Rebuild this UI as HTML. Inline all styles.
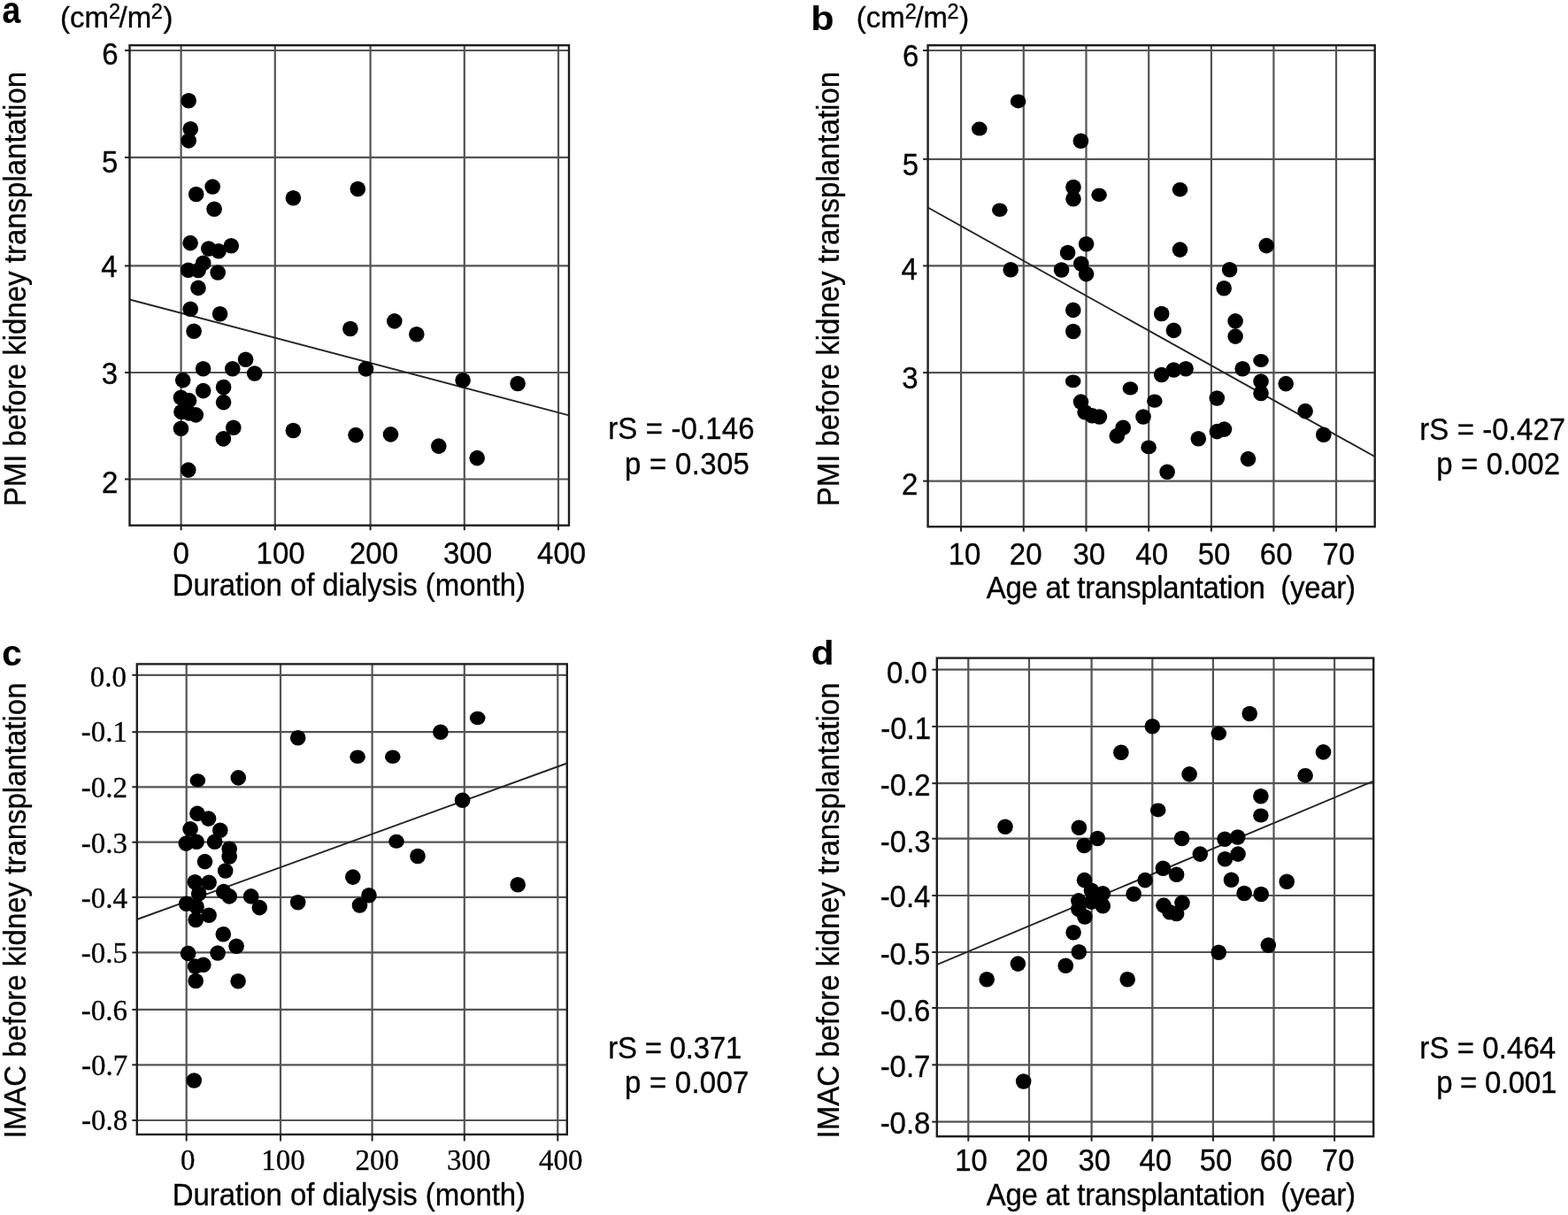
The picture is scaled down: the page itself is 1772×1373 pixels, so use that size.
<!DOCTYPE html>
<html><head><meta charset="utf-8"><title>Figure</title>
<style>
html,body{margin:0;padding:0;background:#fff;}
body{width:1772px;height:1373px;overflow:hidden;}
svg{display:block;}
text{fill:#000;font-kerning:none;white-space:pre;stroke:#000;stroke-width:0.3px;}
.f1{font-family:"Liberation Sans",Arial,sans-serif;}
.f2{font-family:"Liberation Serif","Times New Roman",serif;}
.b{font-weight:bold;}
.fdj{font-family:"DejaVu Sans Condensed","DejaVu Sans",sans-serif;font-weight:bold;font-stretch:condensed;}
.g{stroke:#535353;stroke-width:2.2;}
.k{stroke:#202020;stroke-width:2;}
.r{stroke:#262626;stroke-width:1.9;}
.fr{fill:none;stroke:#1e1e1e;stroke-width:2.4;}
circle,ellipse{fill:#000;}
</style></head><body>
<svg width="1772" height="1373" viewBox="0 0 1772 1373">
<rect width="1772" height="1373" fill="#fff"/>
<line class="g" x1="204.60" y1="51.20" x2="204.60" y2="593.70"/>
<line class="g" x1="310.80" y1="51.20" x2="310.80" y2="593.70"/>
<line class="g" x1="418.60" y1="51.20" x2="418.60" y2="593.70"/>
<line class="g" x1="524.80" y1="51.20" x2="524.80" y2="593.70"/>
<line class="g" x1="631.00" y1="51.20" x2="631.00" y2="593.70"/>
<line class="g" x1="146.50" y1="57.00" x2="643.00" y2="57.00"/>
<line class="g" x1="146.50" y1="177.90" x2="643.00" y2="177.90"/>
<line class="g" x1="146.50" y1="300.45" x2="643.00" y2="300.45"/>
<line class="g" x1="146.50" y1="421.00" x2="643.00" y2="421.00"/>
<line class="g" x1="146.50" y1="541.50" x2="643.00" y2="541.50"/>
<line class="k" x1="141.00" y1="57.00" x2="146.50" y2="57.00"/>
<line class="k" x1="141.00" y1="177.90" x2="146.50" y2="177.90"/>
<line class="k" x1="141.00" y1="300.45" x2="146.50" y2="300.45"/>
<line class="k" x1="141.00" y1="421.00" x2="146.50" y2="421.00"/>
<line class="k" x1="141.00" y1="541.50" x2="146.50" y2="541.50"/>
<line class="k" x1="204.60" y1="593.70" x2="204.60" y2="599.20"/>
<line class="k" x1="310.80" y1="593.70" x2="310.80" y2="599.20"/>
<line class="k" x1="418.60" y1="593.70" x2="418.60" y2="599.20"/>
<line class="k" x1="524.80" y1="593.70" x2="524.80" y2="599.20"/>
<line class="k" x1="631.00" y1="593.70" x2="631.00" y2="599.20"/>
<line class="r" x1="146.50" y1="338.50" x2="643.00" y2="469.30"/>
<circle cx="213.2" cy="113.7" r="8.8"/>
<circle cx="215.3" cy="145.8" r="8.8"/>
<circle cx="213.2" cy="158.9" r="8.8"/>
<circle cx="221.7" cy="219.5" r="8.8"/>
<circle cx="240.2" cy="211.0" r="8.8"/>
<circle cx="242.1" cy="236.2" r="8.8"/>
<circle cx="331.4" cy="223.7" r="8.8"/>
<circle cx="404.3" cy="213.5" r="8.8"/>
<circle cx="215.1" cy="274.6" r="8.8"/>
<circle cx="235.8" cy="281.0" r="8.8"/>
<circle cx="247.0" cy="283.8" r="8.8"/>
<circle cx="261.3" cy="277.7" r="8.8"/>
<circle cx="229.7" cy="297.3" r="8.8"/>
<circle cx="212.8" cy="305.2" r="8.8"/>
<circle cx="224.1" cy="305.5" r="8.8"/>
<circle cx="246.2" cy="308.0" r="8.8"/>
<circle cx="224.0" cy="325.4" r="8.8"/>
<circle cx="215.2" cy="349.2" r="8.8"/>
<circle cx="248.6" cy="354.8" r="8.8"/>
<circle cx="219.1" cy="374.2" r="8.8"/>
<circle cx="395.9" cy="371.5" r="8.8"/>
<circle cx="445.8" cy="362.9" r="8.8"/>
<circle cx="470.8" cy="377.7" r="8.8"/>
<circle cx="277.6" cy="406.2" r="8.8"/>
<circle cx="229.6" cy="416.8" r="8.8"/>
<circle cx="262.8" cy="416.8" r="8.8"/>
<circle cx="287.7" cy="422.0" r="8.8"/>
<circle cx="413.5" cy="416.9" r="8.8"/>
<circle cx="206.7" cy="429.6" r="8.8"/>
<circle cx="523.1" cy="429.7" r="8.8"/>
<circle cx="585.1" cy="433.5" r="8.8"/>
<circle cx="229.7" cy="441.6" r="8.8"/>
<circle cx="252.6" cy="437.5" r="8.8"/>
<circle cx="252.6" cy="454.6" r="8.8"/>
<circle cx="204.5" cy="449.3" r="8.8"/>
<circle cx="213.6" cy="452.6" r="8.8"/>
<circle cx="205.0" cy="465.4" r="8.8"/>
<circle cx="221.3" cy="468.9" r="8.8"/>
<circle cx="213.6" cy="466.9" r="8.8"/>
<circle cx="204.5" cy="484.2" r="8.8"/>
<circle cx="263.8" cy="483.2" r="8.8"/>
<circle cx="252.4" cy="495.9" r="8.8"/>
<circle cx="212.8" cy="531.1" r="8.8"/>
<circle cx="331.4" cy="486.5" r="8.8"/>
<circle cx="402.0" cy="491.6" r="8.8"/>
<circle cx="441.5" cy="490.9" r="8.8"/>
<circle cx="495.8" cy="504.1" r="8.8"/>
<circle cx="539.2" cy="517.6" r="8.8"/>
<rect class="fr" x="146.5" y="51.2" width="496.5" height="542.5"/>
<text class="f1" transform="translate(115.30,72.80) scale(1,1.09)" font-size="33">6</text>
<text class="f1" transform="translate(114.93,195.20) scale(1,1.09)" font-size="33">5</text>
<text class="f1" transform="translate(114.21,313.30) scale(1,1.09)" font-size="33">4</text>
<text class="f1" transform="translate(114.80,434.10) scale(1,1.09)" font-size="33">3</text>
<text class="f1" transform="translate(115.01,556.50) scale(1,1.09)" font-size="33">2</text>
<text class="f1" transform="translate(195.52,637.30) scale(1,1.09)" font-size="33">0</text>
<text class="f1" transform="translate(289.56,637.30) scale(1,1.09)" font-size="33">100</text>
<text class="f1" transform="translate(394.99,637.30) scale(1,1.09)" font-size="33">200</text>
<text class="f1" transform="translate(500.99,637.30) scale(1,1.09)" font-size="33">300</text>
<text class="f1" transform="translate(607.04,637.30) scale(1,1.09)" font-size="33">400</text>
<text class="f1" transform="translate(194.79,673.20) scale(1,1.09)" font-size="33" textLength="399.25" lengthAdjust="spacing">Duration of dialysis (month)</text>
<text class="f1" transform="translate(29.10,572.31) rotate(-90) scale(1,1.09)" font-size="33" textLength="491.45" lengthAdjust="spacing">PMI before kidney transplantation</text>
<text class="f1" transform="translate(687.21,496.30) scale(1,1.09)" font-size="33" textLength="165.44" lengthAdjust="spacing">rS = -0.146</text>
<text class="f1" transform="translate(705.97,536.10) scale(1,1.09)" font-size="33" textLength="140.91" lengthAdjust="spacing">p = 0.305</text>
<text class="f1 b" transform="translate(2.61,25.99) scale(0.3732,0.4198)" font-size="100">a</text>
<line class="g" x1="1086.10" y1="51.20" x2="1086.10" y2="595.20"/>
<line class="g" x1="1156.80" y1="51.20" x2="1156.80" y2="595.20"/>
<line class="g" x1="1227.50" y1="51.20" x2="1227.50" y2="595.20"/>
<line class="g" x1="1298.20" y1="51.20" x2="1298.20" y2="595.20"/>
<line class="g" x1="1368.90" y1="51.20" x2="1368.90" y2="595.20"/>
<line class="g" x1="1439.40" y1="51.20" x2="1439.40" y2="595.20"/>
<line class="g" x1="1510.00" y1="51.20" x2="1510.00" y2="595.20"/>
<line class="g" x1="1048.60" y1="57.00" x2="1553.70" y2="57.00"/>
<line class="g" x1="1048.60" y1="179.80" x2="1553.70" y2="179.80"/>
<line class="g" x1="1048.60" y1="300.40" x2="1553.70" y2="300.40"/>
<line class="g" x1="1048.60" y1="421.10" x2="1553.70" y2="421.10"/>
<line class="g" x1="1048.60" y1="543.60" x2="1553.70" y2="543.60"/>
<line class="k" x1="1043.10" y1="57.00" x2="1048.60" y2="57.00"/>
<line class="k" x1="1043.10" y1="179.80" x2="1048.60" y2="179.80"/>
<line class="k" x1="1043.10" y1="300.40" x2="1048.60" y2="300.40"/>
<line class="k" x1="1043.10" y1="421.10" x2="1048.60" y2="421.10"/>
<line class="k" x1="1043.10" y1="543.60" x2="1048.60" y2="543.60"/>
<line class="k" x1="1086.10" y1="595.20" x2="1086.10" y2="600.70"/>
<line class="k" x1="1156.80" y1="595.20" x2="1156.80" y2="600.70"/>
<line class="k" x1="1227.50" y1="595.20" x2="1227.50" y2="600.70"/>
<line class="k" x1="1298.20" y1="595.20" x2="1298.20" y2="600.70"/>
<line class="k" x1="1368.90" y1="595.20" x2="1368.90" y2="600.70"/>
<line class="k" x1="1439.40" y1="595.20" x2="1439.40" y2="600.70"/>
<line class="k" x1="1510.00" y1="595.20" x2="1510.00" y2="600.70"/>
<line class="r" x1="1048.60" y1="234.50" x2="1553.70" y2="516.00"/>
<ellipse cx="1106.8" cy="145.6" rx="8.8" ry="8.0"/>
<ellipse cx="1150.6" cy="114.4" rx="8.8" ry="8.0"/>
<ellipse cx="1129.8" cy="237.2" rx="8.8" ry="7.8"/>
<circle cx="1142.2" cy="304.7" r="8.8"/>
<circle cx="1221.4" cy="159.3" r="8.8"/>
<circle cx="1213.0" cy="211.5" r="8.8"/>
<circle cx="1213.0" cy="224.8" r="8.8"/>
<ellipse cx="1242.1" cy="220.3" rx="8.8" ry="7.8"/>
<ellipse cx="1333.5" cy="214.2" rx="8.8" ry="8.2"/>
<circle cx="1333.5" cy="282.1" r="8.8"/>
<circle cx="1431.2" cy="277.6" r="8.8"/>
<circle cx="1227.6" cy="275.8" r="8.8"/>
<circle cx="1206.6" cy="285.5" r="8.8"/>
<circle cx="1199.6" cy="305.0" r="8.8"/>
<circle cx="1221.8" cy="298.0" r="8.8"/>
<circle cx="1227.6" cy="309.6" r="8.8"/>
<circle cx="1389.6" cy="304.8" r="8.8"/>
<circle cx="1383.2" cy="325.8" r="8.8"/>
<circle cx="1212.8" cy="350.4" r="8.8"/>
<circle cx="1212.8" cy="374.5" r="8.8"/>
<circle cx="1312.7" cy="354.5" r="8.8"/>
<circle cx="1326.4" cy="373.4" r="8.8"/>
<circle cx="1396.1" cy="362.9" r="8.8"/>
<circle cx="1396.1" cy="380.1" r="8.8"/>
<ellipse cx="1425.0" cy="407.5" rx="8.8" ry="7.5"/>
<circle cx="1404.2" cy="416.8" r="8.8"/>
<circle cx="1312.7" cy="423.5" r="8.8"/>
<circle cx="1326.4" cy="418.0" r="8.8"/>
<circle cx="1340.1" cy="416.8" r="8.8"/>
<ellipse cx="1212.7" cy="430.8" rx="8.8" ry="7.4"/>
<circle cx="1425.0" cy="431.0" r="8.8"/>
<circle cx="1425.0" cy="444.5" r="8.8"/>
<circle cx="1453.2" cy="433.6" r="8.8"/>
<ellipse cx="1277.4" cy="438.9" rx="8.8" ry="7.6"/>
<ellipse cx="1304.8" cy="453.2" rx="8.8" ry="7.6"/>
<circle cx="1375.3" cy="450.0" r="8.8"/>
<circle cx="1221.5" cy="454.1" r="8.8"/>
<circle cx="1226.1" cy="465.7" r="8.8"/>
<circle cx="1234.3" cy="469.8" r="8.8"/>
<circle cx="1242.4" cy="471.0" r="8.8"/>
<circle cx="1292.0" cy="471.0" r="8.8"/>
<circle cx="1475.1" cy="464.6" r="8.8"/>
<circle cx="1269.2" cy="483.2" r="8.8"/>
<circle cx="1262.3" cy="492.6" r="8.8"/>
<circle cx="1375.4" cy="487.6" r="8.8"/>
<circle cx="1383.5" cy="485.1" r="8.8"/>
<circle cx="1495.8" cy="491.3" r="8.8"/>
<circle cx="1354.3" cy="495.7" r="8.8"/>
<ellipse cx="1298.1" cy="505.4" rx="8.8" ry="7.9"/>
<circle cx="1410.5" cy="518.6" r="8.8"/>
<circle cx="1319.1" cy="533.3" r="8.8"/>
<rect class="fr" x="1048.6" y="51.2" width="505.10000000000014" height="544.0"/>
<text class="f1" transform="translate(1020.10,74.80) scale(1,1.09)" font-size="33">6</text>
<text class="f1" transform="translate(1019.63,197.90) scale(1,1.09)" font-size="33">5</text>
<text class="f1" transform="translate(1018.61,315.60) scale(1,1.09)" font-size="33">4</text>
<text class="f1" transform="translate(1019.30,439.00) scale(1,1.09)" font-size="33">3</text>
<text class="f1" transform="translate(1019.01,559.40) scale(1,1.09)" font-size="33">2</text>
<text class="f1" transform="translate(1071.63,638.20) scale(1,1.09)" font-size="33">10</text>
<text class="f1" transform="translate(1140.81,638.20) scale(1,1.09)" font-size="33">20</text>
<text class="f1" transform="translate(1212.41,638.20) scale(1,1.09)" font-size="33">30</text>
<text class="f1" transform="translate(1283.31,638.20) scale(1,1.09)" font-size="33">40</text>
<text class="f1" transform="translate(1353.68,638.20) scale(1,1.09)" font-size="33">50</text>
<text class="f1" transform="translate(1423.85,638.20) scale(1,1.09)" font-size="33">60</text>
<text class="f1" transform="translate(1494.50,638.20) scale(1,1.09)" font-size="33">70</text>
<text class="f1" transform="translate(1114.74,675.50) scale(1,1.09)" font-size="33" textLength="417.31" lengthAdjust="spacing">Age at transplantation  (year)</text>
<text class="f1" transform="translate(948.00,572.31) rotate(-90) scale(1,1.09)" font-size="33" textLength="491.45" lengthAdjust="spacing">PMI before kidney transplantation</text>
<text class="f1" transform="translate(1604.31,496.60) scale(1,1.09)" font-size="33" textLength="164.85" lengthAdjust="spacing">rS = -0.427</text>
<text class="f1" transform="translate(1623.17,536.20) scale(1,1.09)" font-size="33" textLength="139.99" lengthAdjust="spacing">p = 0.002</text>
<text class="f1 b" transform="translate(916.26,33.51) scale(0.4306,0.3963)" font-size="100">b</text>
<line class="g" x1="210.70" y1="750.40" x2="210.70" y2="1282.00"/>
<line class="g" x1="317.00" y1="750.40" x2="317.00" y2="1282.00"/>
<line class="g" x1="420.60" y1="750.40" x2="420.60" y2="1282.00"/>
<line class="g" x1="524.80" y1="750.40" x2="524.80" y2="1282.00"/>
<line class="g" x1="630.30" y1="750.40" x2="630.30" y2="1282.00"/>
<line class="g" x1="154.80" y1="762.80" x2="640.80" y2="762.80"/>
<line class="g" x1="154.80" y1="827.20" x2="640.80" y2="827.20"/>
<line class="g" x1="154.80" y1="889.30" x2="640.80" y2="889.30"/>
<line class="g" x1="154.80" y1="951.70" x2="640.80" y2="951.70"/>
<line class="g" x1="154.80" y1="1013.90" x2="640.80" y2="1013.90"/>
<line class="g" x1="154.80" y1="1076.40" x2="640.80" y2="1076.40"/>
<line class="g" x1="154.80" y1="1140.90" x2="640.80" y2="1140.90"/>
<line class="g" x1="154.80" y1="1203.30" x2="640.80" y2="1203.30"/>
<line class="g" x1="154.80" y1="1266.00" x2="640.80" y2="1266.00"/>
<line class="k" x1="149.30" y1="762.80" x2="154.80" y2="762.80"/>
<line class="k" x1="149.30" y1="827.20" x2="154.80" y2="827.20"/>
<line class="k" x1="149.30" y1="889.30" x2="154.80" y2="889.30"/>
<line class="k" x1="149.30" y1="951.70" x2="154.80" y2="951.70"/>
<line class="k" x1="149.30" y1="1013.90" x2="154.80" y2="1013.90"/>
<line class="k" x1="149.30" y1="1076.40" x2="154.80" y2="1076.40"/>
<line class="k" x1="149.30" y1="1140.90" x2="154.80" y2="1140.90"/>
<line class="k" x1="149.30" y1="1203.30" x2="154.80" y2="1203.30"/>
<line class="k" x1="149.30" y1="1266.00" x2="154.80" y2="1266.00"/>
<line class="k" x1="210.70" y1="1282.00" x2="210.70" y2="1289.50"/>
<line class="k" x1="317.00" y1="1282.00" x2="317.00" y2="1289.50"/>
<line class="k" x1="420.60" y1="1282.00" x2="420.60" y2="1289.50"/>
<line class="k" x1="524.80" y1="1282.00" x2="524.80" y2="1289.50"/>
<line class="k" x1="630.30" y1="1282.00" x2="630.30" y2="1289.50"/>
<line class="r" x1="154.80" y1="1039.00" x2="640.80" y2="862.50"/>
<ellipse cx="223.4" cy="881.9" rx="8.8" ry="7.6"/>
<circle cx="269.3" cy="878.9" r="8.8"/>
<circle cx="336.7" cy="833.7" r="8.8"/>
<ellipse cx="404.1" cy="855.3" rx="8.8" ry="7.7"/>
<ellipse cx="443.8" cy="855.2" rx="8.8" ry="7.8"/>
<circle cx="497.9" cy="827.3" r="8.8"/>
<ellipse cx="539.7" cy="811.5" rx="8.8" ry="7.8"/>
<circle cx="522.6" cy="904.3" r="8.8"/>
<ellipse cx="448.0" cy="950.8" rx="8.8" ry="8.0"/>
<circle cx="472.0" cy="967.5" r="8.8"/>
<circle cx="398.8" cy="991.1" r="8.8"/>
<circle cx="585.2" cy="999.7" r="8.8"/>
<circle cx="336.7" cy="1019.7" r="8.8"/>
<circle cx="417.0" cy="1011.7" r="8.8"/>
<circle cx="406.5" cy="1023.0" r="8.8"/>
<circle cx="223.0" cy="919.4" r="8.8"/>
<circle cx="235.6" cy="925.1" r="8.8"/>
<circle cx="248.8" cy="938.2" r="8.8"/>
<circle cx="215.1" cy="936.9" r="8.8"/>
<circle cx="210.3" cy="953.1" r="8.8"/>
<circle cx="222.1" cy="951.3" r="8.8"/>
<circle cx="242.6" cy="951.3" r="8.8"/>
<circle cx="259.2" cy="959.2" r="8.8"/>
<circle cx="259.2" cy="968.0" r="8.8"/>
<circle cx="231.5" cy="973.6" r="8.8"/>
<circle cx="254.7" cy="984.0" r="8.8"/>
<circle cx="220.3" cy="996.7" r="8.8"/>
<circle cx="236.1" cy="997.2" r="8.8"/>
<circle cx="224.7" cy="1009.8" r="8.8"/>
<circle cx="252.7" cy="1007.6" r="8.8"/>
<circle cx="259.2" cy="1012.9" r="8.8"/>
<circle cx="283.7" cy="1012.9" r="8.8"/>
<circle cx="293.3" cy="1025.6" r="8.8"/>
<circle cx="210.7" cy="1021.2" r="8.8"/>
<circle cx="222.1" cy="1024.7" r="8.8"/>
<circle cx="221.2" cy="1039.5" r="8.8"/>
<circle cx="236.1" cy="1034.3" r="8.8"/>
<circle cx="252.3" cy="1055.7" r="8.8"/>
<circle cx="267.1" cy="1069.3" r="8.8"/>
<circle cx="212.6" cy="1077.4" r="8.8"/>
<circle cx="246.1" cy="1077.0" r="8.8"/>
<circle cx="229.8" cy="1090.2" r="8.8"/>
<circle cx="220.6" cy="1092.1" r="8.8"/>
<circle cx="221.2" cy="1108.5" r="8.8"/>
<circle cx="269.1" cy="1108.8" r="8.8"/>
<circle cx="219.3" cy="1221.0" r="8.8"/>
<rect class="fr" x="154.8" y="750.4" width="485.99999999999994" height="531.6"/>
<text class="f2" transform="translate(101.64,776.00) scale(1,1.04)" font-size="33">0.0</text>
<text class="f2" transform="translate(91.68,838.40) scale(1,1.04)" font-size="33">-0.1</text>
<text class="f2" transform="translate(91.68,901.00) scale(1,1.04)" font-size="33">-0.2</text>
<text class="f2" transform="translate(91.68,963.60) scale(1,1.04)" font-size="33">-0.3</text>
<text class="f2" transform="translate(91.68,1026.00) scale(1,1.04)" font-size="33">-0.4</text>
<text class="f2" transform="translate(91.68,1088.40) scale(1,1.04)" font-size="33">-0.5</text>
<text class="f2" transform="translate(91.68,1152.90) scale(1,1.04)" font-size="33">-0.6</text>
<text class="f2" transform="translate(91.98,1214.50) scale(1,1.04)" font-size="33">-0.7</text>
<text class="f2" transform="translate(91.98,1277.20) scale(1,1.04)" font-size="33">-0.8</text>
<text class="f2" transform="translate(203.90,1322.00) scale(1,1.04)" font-size="33">0</text>
<text class="f2" transform="translate(295.28,1322.00) scale(1,1.04)" font-size="33">100</text>
<text class="f2" transform="translate(401.45,1322.00) scale(1,1.04)" font-size="33">200</text>
<text class="f2" transform="translate(504.99,1322.00) scale(1,1.04)" font-size="33">300</text>
<text class="f2" transform="translate(609.01,1322.00) scale(1,1.04)" font-size="33">400</text>
<text class="f1" transform="translate(194.79,1361.70) scale(1,1.09)" font-size="33" textLength="399.25" lengthAdjust="spacing">Duration of dialysis (month)</text>
<text class="f1" transform="translate(28.90,1286.45) rotate(-90) scale(1,1.09)" font-size="33" textLength="514.99" lengthAdjust="spacing">IMAC before kidney transplantation</text>
<text class="f1" transform="translate(687.21,1195.50) scale(1,1.09)" font-size="33" textLength="151.20" lengthAdjust="spacing">rS = 0.371</text>
<text class="f1" transform="translate(705.97,1235.20) scale(1,1.09)" font-size="33" textLength="140.39" lengthAdjust="spacing">p = 0.007</text>
<text class="f1 b" transform="translate(2.32,751.60) scale(0.4039,0.4070)" font-size="100">c</text>
<line class="g" x1="1094.30" y1="743.60" x2="1094.30" y2="1284.20"/>
<line class="g" x1="1163.00" y1="743.60" x2="1163.00" y2="1284.20"/>
<line class="g" x1="1233.60" y1="743.60" x2="1233.60" y2="1284.20"/>
<line class="g" x1="1302.30" y1="743.60" x2="1302.30" y2="1284.20"/>
<line class="g" x1="1370.90" y1="743.60" x2="1370.90" y2="1284.20"/>
<line class="g" x1="1439.50" y1="743.60" x2="1439.50" y2="1284.20"/>
<line class="g" x1="1508.10" y1="743.60" x2="1508.10" y2="1284.20"/>
<line class="g" x1="1058.80" y1="756.70" x2="1552.20" y2="756.70"/>
<line class="g" x1="1058.80" y1="821.00" x2="1552.20" y2="821.00"/>
<line class="g" x1="1058.80" y1="885.20" x2="1552.20" y2="885.20"/>
<line class="g" x1="1058.80" y1="947.70" x2="1552.20" y2="947.70"/>
<line class="g" x1="1058.80" y1="1012.00" x2="1552.20" y2="1012.00"/>
<line class="g" x1="1058.80" y1="1076.00" x2="1552.20" y2="1076.00"/>
<line class="g" x1="1058.80" y1="1139.00" x2="1552.20" y2="1139.00"/>
<line class="g" x1="1058.80" y1="1203.30" x2="1552.20" y2="1203.30"/>
<line class="g" x1="1058.80" y1="1267.70" x2="1552.20" y2="1267.70"/>
<line class="k" x1="1053.30" y1="756.70" x2="1058.80" y2="756.70"/>
<line class="k" x1="1053.30" y1="821.00" x2="1058.80" y2="821.00"/>
<line class="k" x1="1053.30" y1="885.20" x2="1058.80" y2="885.20"/>
<line class="k" x1="1053.30" y1="947.70" x2="1058.80" y2="947.70"/>
<line class="k" x1="1053.30" y1="1012.00" x2="1058.80" y2="1012.00"/>
<line class="k" x1="1053.30" y1="1076.00" x2="1058.80" y2="1076.00"/>
<line class="k" x1="1053.30" y1="1139.00" x2="1058.80" y2="1139.00"/>
<line class="k" x1="1053.30" y1="1203.30" x2="1058.80" y2="1203.30"/>
<line class="k" x1="1053.30" y1="1267.70" x2="1058.80" y2="1267.70"/>
<line class="k" x1="1094.30" y1="1284.20" x2="1094.30" y2="1289.70"/>
<line class="k" x1="1163.00" y1="1284.20" x2="1163.00" y2="1289.70"/>
<line class="k" x1="1233.60" y1="1284.20" x2="1233.60" y2="1289.70"/>
<line class="k" x1="1302.30" y1="1284.20" x2="1302.30" y2="1289.70"/>
<line class="k" x1="1370.90" y1="1284.20" x2="1370.90" y2="1289.70"/>
<line class="k" x1="1439.50" y1="1284.20" x2="1439.50" y2="1289.70"/>
<line class="k" x1="1508.10" y1="1284.20" x2="1508.10" y2="1289.70"/>
<line class="r" x1="1058.80" y1="1090.20" x2="1552.20" y2="882.70"/>
<circle cx="1115.2" cy="1106.7" r="8.8"/>
<circle cx="1150.4" cy="1089.1" r="8.8"/>
<circle cx="1136.0" cy="934.3" r="8.8"/>
<circle cx="1156.7" cy="1222.0" r="8.8"/>
<circle cx="1204.3" cy="1091.3" r="8.8"/>
<circle cx="1213.1" cy="1053.8" r="8.8"/>
<circle cx="1219.3" cy="1075.7" r="8.8"/>
<circle cx="1219.4" cy="935.2" r="8.8"/>
<circle cx="1225.2" cy="955.5" r="8.8"/>
<circle cx="1240.3" cy="947.5" r="8.8"/>
<circle cx="1225.5" cy="994.6" r="8.8"/>
<circle cx="1233.5" cy="1006.2" r="8.8"/>
<circle cx="1246.3" cy="1009.7" r="8.8"/>
<circle cx="1233.5" cy="1019.1" r="8.8"/>
<circle cx="1246.3" cy="1023.7" r="8.8"/>
<circle cx="1218.9" cy="1017.9" r="8.8"/>
<circle cx="1218.9" cy="1027.2" r="8.8"/>
<circle cx="1225.9" cy="1036.0" r="8.8"/>
<circle cx="1266.9" cy="850.3" r="8.8"/>
<circle cx="1274.2" cy="1106.7" r="8.8"/>
<circle cx="1281.2" cy="1010.3" r="8.8"/>
<circle cx="1294.1" cy="994.6" r="8.8"/>
<circle cx="1302.3" cy="820.8" r="8.8"/>
<ellipse cx="1308.7" cy="915.4" rx="8.8" ry="8.0"/>
<circle cx="1314.4" cy="981.2" r="8.8"/>
<circle cx="1315.0" cy="1023.1" r="8.8"/>
<circle cx="1322.0" cy="1030.7" r="8.8"/>
<circle cx="1329.6" cy="988.2" r="8.8"/>
<circle cx="1329.6" cy="1032.5" r="8.8"/>
<circle cx="1336.0" cy="1020.2" r="8.8"/>
<circle cx="1335.6" cy="947.5" r="8.8"/>
<circle cx="1344.1" cy="874.9" r="8.8"/>
<circle cx="1356.3" cy="965.1" r="8.8"/>
<ellipse cx="1377.3" cy="828.8" rx="8.8" ry="8.0"/>
<circle cx="1377.2" cy="1076.3" r="8.8"/>
<circle cx="1384.1" cy="948.2" r="8.8"/>
<circle cx="1384.4" cy="970.7" r="8.8"/>
<circle cx="1391.5" cy="994.2" r="8.8"/>
<circle cx="1398.7" cy="946.0" r="8.8"/>
<circle cx="1399.1" cy="965.1" r="8.8"/>
<circle cx="1406.1" cy="1009.5" r="8.8"/>
<circle cx="1412.2" cy="806.5" r="8.8"/>
<circle cx="1424.9" cy="899.7" r="8.8"/>
<ellipse cx="1424.9" cy="921.5" rx="8.8" ry="8.0"/>
<circle cx="1425.2" cy="1010.5" r="8.8"/>
<circle cx="1433.3" cy="1068.1" r="8.8"/>
<circle cx="1454.2" cy="996.2" r="8.8"/>
<ellipse cx="1475.1" cy="876.4" rx="8.8" ry="8.3"/>
<circle cx="1495.5" cy="849.9" r="8.8"/>
<rect class="fr" x="1058.8" y="743.6" width="493.4000000000001" height="540.6"/>
<text class="f1" transform="translate(1002.01,772.00) scale(1,1.09)" font-size="33">0.0</text>
<text class="f1" transform="translate(995.23,834.50) scale(1,1.09)" font-size="33">-0.1</text>
<text class="f1" transform="translate(994.83,899.00) scale(1,1.09)" font-size="33">-0.2</text>
<text class="f1" transform="translate(994.83,963.40) scale(1,1.09)" font-size="33">-0.3</text>
<text class="f1" transform="translate(994.63,1025.30) scale(1,1.09)" font-size="33">-0.4</text>
<text class="f1" transform="translate(994.63,1090.00) scale(1,1.09)" font-size="33">-0.5</text>
<text class="f1" transform="translate(994.63,1154.30) scale(1,1.09)" font-size="33">-0.6</text>
<text class="f1" transform="translate(994.63,1216.80) scale(1,1.09)" font-size="33">-0.7</text>
<text class="f1" transform="translate(994.63,1281.40) scale(1,1.09)" font-size="33">-0.8</text>
<text class="f1" transform="translate(1079.28,1322.50) scale(1,1.09)" font-size="33">10</text>
<text class="f1" transform="translate(1147.56,1322.50) scale(1,1.09)" font-size="33">20</text>
<text class="f1" transform="translate(1218.41,1322.50) scale(1,1.09)" font-size="33">30</text>
<text class="f1" transform="translate(1287.46,1322.50) scale(1,1.09)" font-size="33">40</text>
<text class="f1" transform="translate(1355.68,1322.50) scale(1,1.09)" font-size="33">50</text>
<text class="f1" transform="translate(1423.85,1322.50) scale(1,1.09)" font-size="33">60</text>
<text class="f1" transform="translate(1493.80,1322.50) scale(1,1.09)" font-size="33">70</text>
<text class="f1" transform="translate(1114.74,1362.10) scale(1,1.09)" font-size="33" textLength="417.31" lengthAdjust="spacing">Age at transplantation  (year)</text>
<text class="f1" transform="translate(948.00,1286.45) rotate(-90) scale(1,1.09)" font-size="33" textLength="514.99" lengthAdjust="spacing">IMAC before kidney transplantation</text>
<text class="f1" transform="translate(1604.31,1195.80) scale(1,1.09)" font-size="33" textLength="153.86" lengthAdjust="spacing">rS = 0.464</text>
<text class="f1" transform="translate(1623.17,1235.40) scale(1,1.09)" font-size="33" textLength="136.14" lengthAdjust="spacing">p = 0.001</text>
<text class="f1 b" transform="translate(916.77,751.02) scale(0.4227,0.3922)" font-size="100">d</text>
<text class="f1" transform="translate(67.95,31) scale(1,1.03)" font-size="33">(cm<tspan font-size="23.5" dy="-9.8">2</tspan><tspan dy="9.8" dx="-1.4">/m</tspan><tspan font-size="23.5" dy="-9.8" dx="-0.6">2</tspan><tspan dy="9.8" dx="0.7">)</tspan></text>
<text class="f1" transform="translate(967.75,31) scale(1,1.03)" font-size="33">(cm<tspan font-size="23.5" dy="-9.8">2</tspan><tspan dy="9.8" dx="-1.4">/m</tspan><tspan font-size="23.5" dy="-9.8" dx="-0.6">2</tspan><tspan dy="9.8" dx="0.7">)</tspan></text>
</svg>
</body></html>
